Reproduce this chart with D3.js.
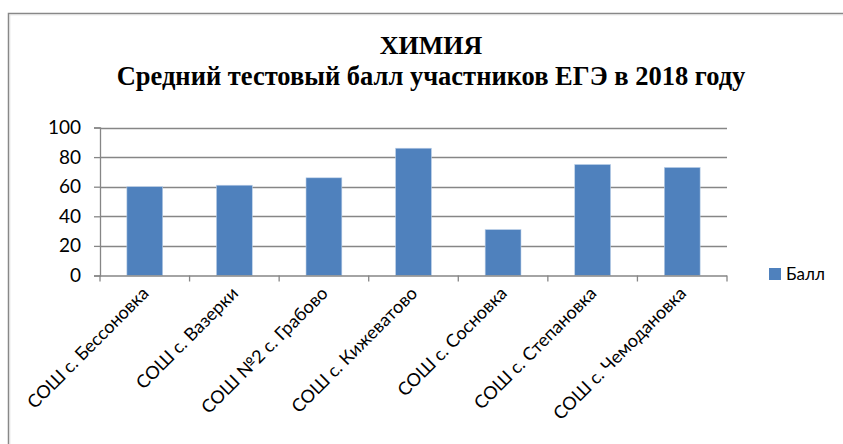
<!DOCTYPE html>
<html>
<head>
<meta charset="utf-8">
<script src="https://cdn.jsdelivr.net/npm/d3@7"></script>
<style>
  body { margin: 0; background: #fff; }
  svg { display: block; }
</style>
</head>
<body>
<svg id="chart" width="843" height="444"></svg>
<script>
// data
var schools = ['СОШ с. Бессоновка', 'СОШ  с. Вазерки', 'СОШ №2 с. Грабово', 'СОШ с. Кижеватово',
  'СОШ с. Сосновка', 'СОШ с. Степановка', 'СОШ с. Чемодановка'];
var scores = [60, 61, 66, 86, 31, 75, 73];
var yTicks = [0, 20, 40, 60, 80, 100];
var seriesName = 'Балл';
var titleLines = ['ХИМИЯ', 'Средний тестовый балл участников ЕГЭ в 2018 году'];

var svg = d3.select('#chart');
var width = +svg.attr('width');
var height = +svg.attr('height');

var barColor = '#4f81bd';
var gridColor = '#868686';
var labelFont = 'Lato, "Open Sans", sans-serif';

// outer frame (right & bottom run off the picture)
svg.append('path')
  .attr('d', 'M8.5,' + height + 'V13.5H' + width)
  .attr('fill', 'none')
  .attr('stroke', '#888')
  .attr('stroke-width', 1.5);
svg.append('path')
  .attr('d', 'M9.8,' + height + 'V14.8H' + width)
  .attr('fill', 'none')
  .attr('stroke', '#ddd')
  .attr('stroke-width', 1);

// titles
svg.append('text')
  .attr('x', 431).attr('y', 54)
  .attr('text-anchor', 'middle')
  .style('font', 'bold 26px "Liberation Serif", "Times New Roman", serif')
  .text(titleLines[0]);
svg.append('text')
  .attr('x', 431).attr('y', 85)
  .attr('text-anchor', 'middle')
  .style('font', 'bold 26.5px "Liberation Serif", "Times New Roman", serif')
  .text(titleLines[1]);

var margin = { left: 100, right: 727, top: 127.5, bottom: 275.5 };

var x = d3.scaleBand()
  .domain(schools)
  .range([margin.left, margin.right])
  .paddingInner(0.6)
  .paddingOuter(0.3);

var y = d3.scaleLinear()
  .domain([0, 100])
  .range([margin.bottom, margin.top]);

// gridlines
svg.append('g')
  .selectAll('line')
  .data(yTicks.slice(1))
  .join('line')
  .attr('x1', margin.left).attr('x2', margin.right)
  .attr('y1', function(d) { return Math.round(y(d)) + 0.5; })
  .attr('y2', function(d) { return Math.round(y(d)) + 0.5; })
  .attr('stroke', gridColor)
  .attr('stroke-width', 1.3);

// bars
svg.append('g')
  .selectAll('rect')
  .data(scores)
  .join('rect')
  .attr('x', function(d, i) { return x(schools[i]); })
  .attr('y', function(d) { return y(d); })
  .attr('width', x.bandwidth())
  .attr('height', function(d) { return y(0) - y(d); })
  .attr('fill', barColor)
  .attr('stroke', '#bcd0e8')
  .attr('stroke-width', 0.6);

// y axis
var yAxis = svg.append('g')
  .attr('transform', 'translate(' + margin.left + ',0)')
  .call(d3.axisLeft(y).tickValues(yTicks).tickSize(6).tickPadding(13));
yAxis.select('.domain').attr('stroke', gridColor).attr('stroke-width', 1.3);
yAxis.selectAll('.tick line').attr('stroke', gridColor).attr('stroke-width', 1.3);
yAxis.selectAll('text')
  .style('font', '19px ' + labelFont)
  .attr('fill', '#000');

// x axis with boundary ticks
var step = x.step();
var xBase = svg.append('g');
xBase.append('line')
  .attr('x1', margin.left).attr('x2', margin.right)
  .attr('y1', margin.bottom + 0.5).attr('y2', margin.bottom + 0.5)
  .attr('stroke', gridColor).attr('stroke-width', 1.3);
xBase.selectAll('.xtick')
  .data(d3.range(schools.length + 1))
  .join('line')
  .attr('class', 'xtick')
  .attr('x1', function(i) { return margin.left + i * step; })
  .attr('x2', function(i) { return margin.left + i * step; })
  .attr('y1', margin.bottom).attr('y2', margin.bottom + 6)
  .attr('stroke', gridColor).attr('stroke-width', 1.3);

xBase.selectAll('.xlabel')
  .data(schools)
  .join('text')
  .attr('class', 'xlabel')
  .attr('text-anchor', 'end')
  .attr('transform', function(d) {
    var cx = x(d) + x.bandwidth() / 2 + 5;
    return 'translate(' + cx + ',' + (margin.bottom + 19) + ') rotate(-45)';
  })
  .style('font', '18px ' + labelFont)
  .attr('fill', '#000')
  .text(function(d) { return d; });

// legend
var legend = svg.append('g').attr('transform', 'translate(769,268)');
legend.append('rect')
  .attr('width', 12).attr('height', 12)
  .attr('fill', barColor);
legend.append('text')
  .attr('x', 17).attr('y', 12)
  .style('font', '17px ' + labelFont)
  .text(seriesName);
</script>
</body>
</html>
